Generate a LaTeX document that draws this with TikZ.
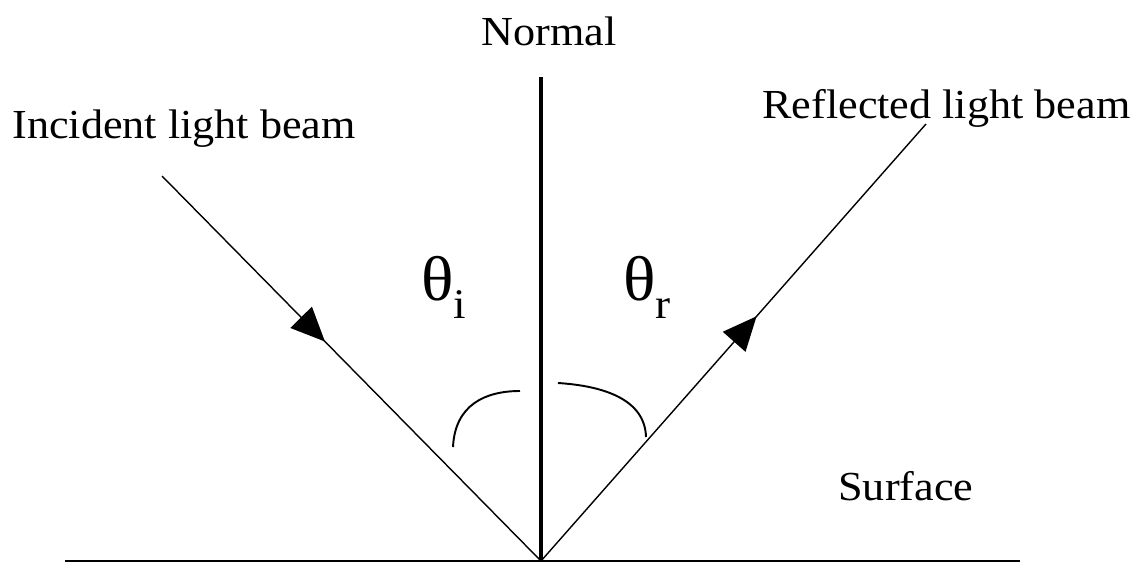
\documentclass[tikz,border=0pt]{standalone}
\usepackage{fontspec}
\setmainfont{Liberation Serif}[FakeStretch=1.07]
\usetikzlibrary{arrows.meta, decorations.markings}

\begin{document}
\begin{tikzpicture}[
    x=0.02cm, y=-0.02cm,
    lbl/.style={inner sep=0pt, font=\fontsize{23.5}{26}\selectfont},
    angl/.style={inner sep=0pt, font=\fontsize{36}{38}\selectfont},
    beam/.style={line width=0.8pt},
    midarr/.style={decoration={markings, mark=at position #1 with {\arrow{Triangle[length=0.68cm, width=0.6cm]}}}, postaction={decorate}},
]
\useasboundingbox (0,0) rectangle (1144,565);

% points
\coordinate (hit) at (541,561);
\coordinate (ntop) at (541,77);
\coordinate (src) at (162,176);
\coordinate (dst) at (926,124);
\coordinate (sl) at (65,561);
\coordinate (sr) at (1020,561);

% surface and normal
\draw[line width=1.2pt] (sl) -- (sr);
\draw[line width=2pt] (ntop) -- (hit);

% beams
\draw[beam, midarr=0.43] (src) -- (hit);
\draw[beam, midarr=0.56] (hit) -- (dst);

% angle arcs
\draw[line width=1.1pt] (453,447) .. controls (455,405) and (485,391) .. (520,391);
\draw[line width=1.1pt] (558,383) .. controls (605,386) and (645,400) .. (646,437);

% labels
\node[lbl, anchor=base] (normal) at (549,45) {Normal};
\node[lbl, anchor=base west] (inc) at (12,138) {Incident light beam};
\node[lbl, anchor=base west] (refl) at (762,118) {Reflected light beam};
\node[lbl, anchor=base west] (surf) at (838,500) {Surface};
\node[angl, anchor=base west] (thi) at (421,300) {θ\raisebox{-0.3em}{\fontsize{24}{26}\selectfont i}};
\node[angl, anchor=base west] (thr) at (623,300) {θ\raisebox{-0.3em}{\fontsize{24}{26}\selectfont r}};

\end{tikzpicture}
\end{document}
